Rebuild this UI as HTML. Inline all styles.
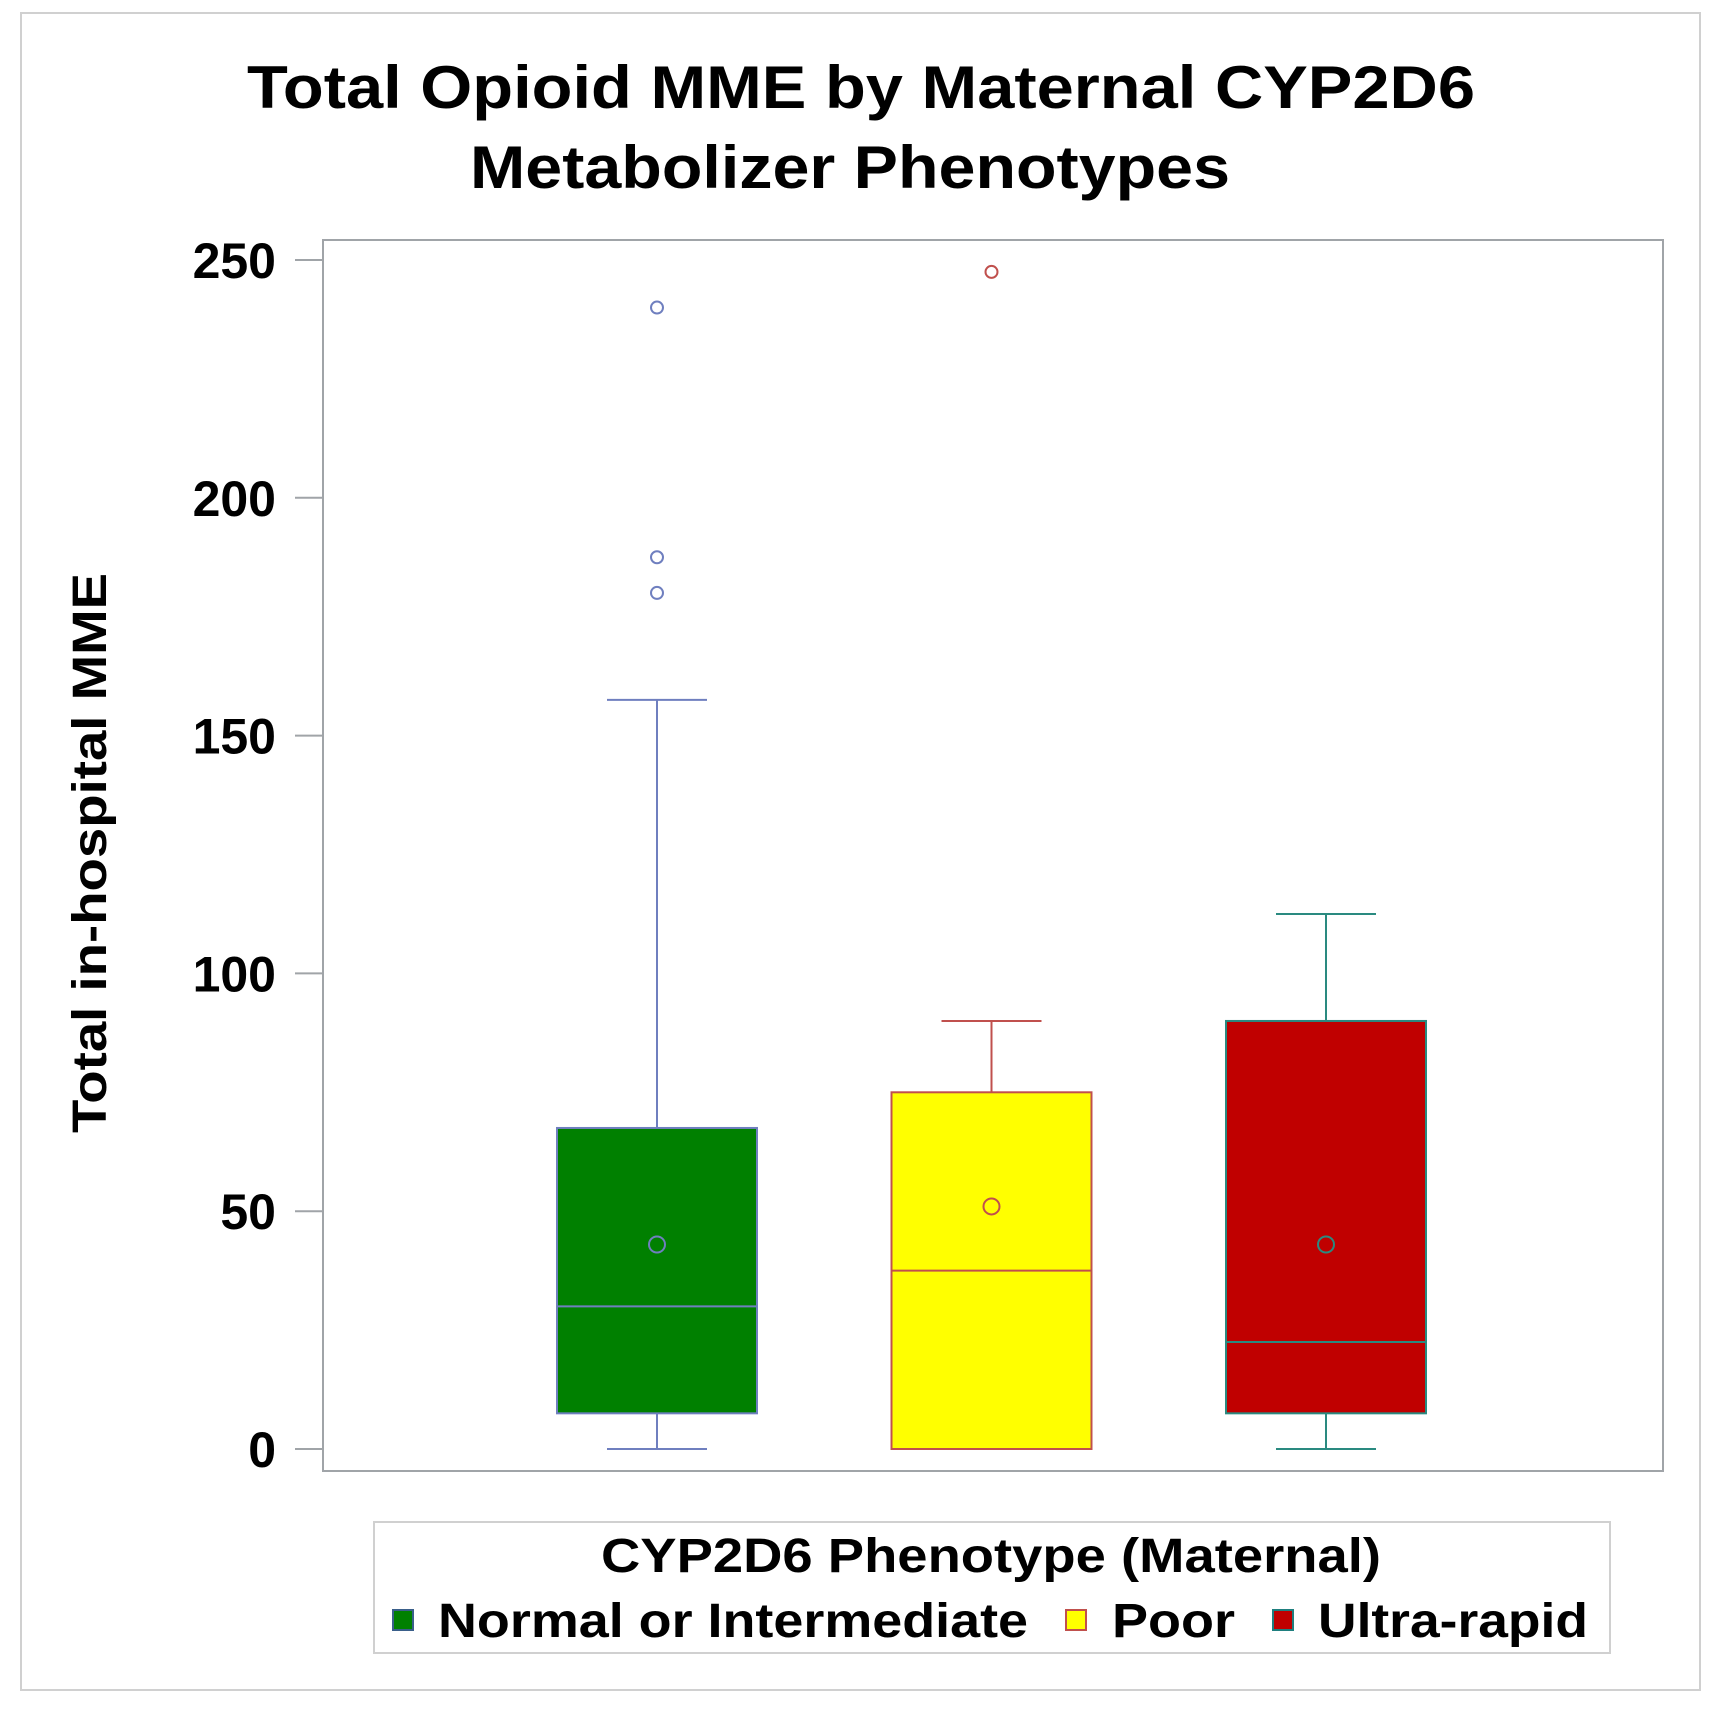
<!DOCTYPE html>
<html><head><meta charset="utf-8"><style>
html,body{margin:0;padding:0;background:#fff;}
svg{display:block;font-family:"Liberation Sans",Arial,sans-serif;}
</style></head><body>
<svg id="chart" width="1726" height="1714" viewBox="0 0 1726 1714">
<rect x="21" y="13" width="1679" height="1677" fill="#fff" stroke="#d0d0d0" stroke-width="2"/>
<text x="861" y="108" font-size="60" font-weight="bold" text-anchor="middle" textLength="1228" lengthAdjust="spacingAndGlyphs">Total Opioid MME by Maternal CYP2D6</text>
<text x="850" y="188" font-size="60" font-weight="bold" text-anchor="middle" textLength="760" lengthAdjust="spacingAndGlyphs">Metabolizer Phenotypes</text>
<rect x="323" y="240" width="1340" height="1231" fill="#fff" stroke="#a0a4a8" stroke-width="2"/>
<g id="yaxis"></g>
<text transform="translate(106,853) rotate(-90)" font-size="48" font-weight="bold" text-anchor="middle" textLength="560" lengthAdjust="spacingAndGlyphs">Total in-hospital MME</text>
<g id="boxes"></g>
<g>
<rect x="374" y="1522" width="1236" height="131" fill="#fff" stroke="#d0d0d0" stroke-width="2"/>
<text x="991" y="1572" font-size="48" font-weight="bold" text-anchor="middle" textLength="780" lengthAdjust="spacingAndGlyphs">CYP2D6 Phenotype (Maternal)</text>
<g><rect x="393" y="1610" width="20" height="20" fill="#008000" stroke="#3a5f8a" stroke-width="2"/><text x="438" y="1637" font-size="48" font-weight="bold" textLength="590" lengthAdjust="spacingAndGlyphs">Normal or Intermediate</text></g>
<g><rect x="1066" y="1610" width="20" height="20" fill="#ffff00" stroke="#c0504d" stroke-width="2"/><text x="1112" y="1637" font-size="48" font-weight="bold" textLength="123" lengthAdjust="spacingAndGlyphs">Poor</text></g>
<g><rect x="1273" y="1610" width="20" height="20" fill="#c00000" stroke="#1f7f7f" stroke-width="2"/><text x="1318" y="1637" font-size="48" font-weight="bold" textLength="270" lengthAdjust="spacingAndGlyphs">Ultra-rapid</text></g>
</g>
</svg>
<script>
const categories = ["Normal or Intermediate", "Poor", "Ultra-rapid"];
const whiskerLow = [0, 0, 0];
const q1 = [7.5, 0, 7.5];
const medians = [30, 37.5, 22.5];
const means = [43, 51, 43];
const q3 = [67.5, 75, 90];
const whiskerHigh = [157.5, 90, 112.5];
const outliers = [[180, 187.5, 240], [247.5], []];
const yTicks = [0, 50, 100, 150, 200, 250];
const fills = ["#008000", "#ffff00", "#c00000"];
const edges = ["#6f7fbf", "#c0504d", "#2a8a80"];

const NS = "http://www.w3.org/2000/svg";
const y = v => 1449 - v * (1189 / 250);
const x = i => 657 + i * 334.5;
function mk(tag, attrs, parent) {
  const e = document.createElementNS(NS, tag);
  for (const k in attrs) e.setAttribute(k, attrs[k]);
  parent.appendChild(e);
  return e;
}
const ya = document.getElementById("yaxis");
yTicks.forEach(t => {
  const l = mk("line", {x1: 295, x2: 323, y1: y(t), y2: y(t), stroke: "#a0a4a8", "stroke-width": 2}, ya);
  
  
  const tx = mk("text", {x: 276, y: y(t) + 18, "font-size": 50, "font-weight": "bold", "text-anchor": "end"}, ya);
  tx.textContent = t;
  
  
});
const bg = document.getElementById("boxes");
categories.forEach((c, i) => {
  const cx = x(i), e = edges[i];
  const g = mk("g", {}, bg);
  
  
  mk("line", {x1: cx, x2: cx, y1: y(q3[i]), y2: y(whiskerHigh[i]), stroke: e, "stroke-width": 2}, g);
  mk("line", {x1: cx, x2: cx, y1: y(q1[i]), y2: y(whiskerLow[i]), stroke: e, "stroke-width": 2}, g);
  mk("line", {x1: cx - 50, x2: cx + 50, y1: y(whiskerHigh[i]), y2: y(whiskerHigh[i]), stroke: e, "stroke-width": 2}, g);
  mk("line", {x1: cx - 50, x2: cx + 50, y1: y(whiskerLow[i]), y2: y(whiskerLow[i]), stroke: e, "stroke-width": 2}, g);
  mk("rect", {x: cx - 100, y: y(q3[i]), width: 200, height: y(q1[i]) - y(q3[i]), fill: fills[i], stroke: e, "stroke-width": 2}, g);
  mk("line", {x1: cx - 100, x2: cx + 100, y1: y(medians[i]), y2: y(medians[i]), stroke: e, "stroke-width": 2}, g);
  mk("circle", {cx: cx, cy: y(means[i]), r: 8, fill: "none", stroke: e, "stroke-width": 2}, g);
  outliers[i].forEach(o => {
    const p = mk("circle", {cx: cx, cy: y(o), r: 6, fill: "none", stroke: e, "stroke-width": 2}, g);
    
    
  });
});
</script>
</body></html>
